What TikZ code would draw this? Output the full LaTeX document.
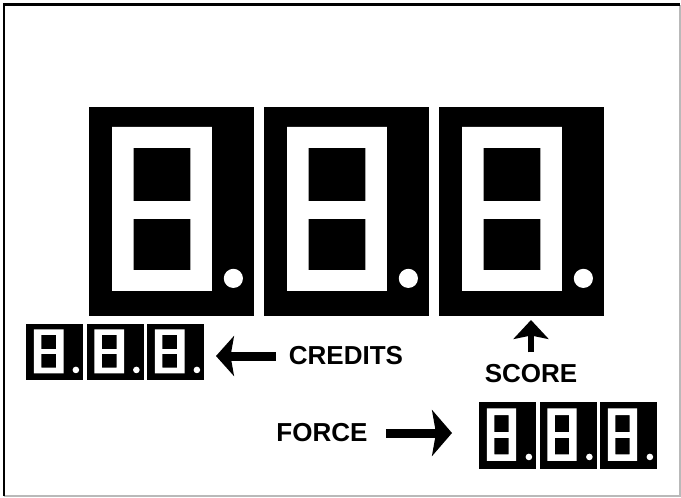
\documentclass[tikz,border=0pt]{standalone}
\usepackage{fontspec}
\usepackage{tikz}
\usetikzlibrary{arrows.meta,calc}
\newfontfamily\lblfont{Liberation Sans}

% one seven-segment digit: name, left, top, width, height, right edge of the white frame
\newcommand{\segdigit}[6]{%
	\node[digitbox,minimum width={#4*0.2mm},minimum height={#5*0.2mm}] (#1) at (#2,#3) {};
	\begin{scope}[shift={(#1.north west)},x={#4*0.2mm},y={-#5*0.2mm}]
		\fill[white,even odd rule] (0.14,0.095) rectangle (#6,0.88)
			(0.27,0.195) rectangle ({#6-0.13},0.45)
			(0.27,0.535) rectangle ({#6-0.13},0.78);
		\fill[white] (0.875,0.82) circle[radius={0.058*#4*0.2mm}];
	\end{scope}
}

\begin{document}
\begin{tikzpicture}[
					x=0.2mm,y=-0.2mm,
					digitbox/.style={rectangle,fill=black,anchor=north west,inner sep=0pt,outer sep=0pt},
					lbl/.style={font=\lblfont\bfseries\fontsize{14.8pt}{17pt}\selectfont,inner sep=0pt},
					fatarrow/.style={line width=1.8mm}
					]
					\useasboundingbox (0,0) rectangle (681,497);
					% frame
					\draw[gray!55,line width=0.3mm] (4,496) -- (680,496) -- (680,4.5);
					\draw[line width=0.5mm] (4,496) -- (4,4.5) -- (680,4.5);
					% digits
					\foreach \n/\px in {1/89,2/264,3/439}{
						\segdigit{big\n}{\px}{107}{165}{209}{0.745}
					}
					\foreach \n/\px in {1/26,2/86.5,3/147}{
						\segdigit{cred\n}{\px}{324}{57}{56}{0.66}
					}
					\foreach \n/\px in {1/479,2/539.5,3/600}{
						\segdigit{frc\n}{\px}{402}{57}{67}{0.65}
					}
					% labels
					\node[lbl] (credits) at (346,356) {CREDITS};
					\node[lbl] (score) at (531,374) {SCORE};
					\node[lbl] (force) at (322,433) {FORCE};
					% arrows
					\draw[fatarrow,-{Stealth[length=3.6mm,width=8mm,inset=0.7mm]},shorten <=2.6mm,shorten >=2.4mm]
						(credits.west) -- (credits.west -| cred3.east);
					\draw[fatarrow,-{Stealth[length=4mm,width=9.2mm,inset=0.8mm]},shorten <=3.6mm,shorten >=5.4mm]
						(force.east) -- (force.east -| frc1.west);
					\draw[line width=1.2mm,-{Stealth[length=3.8mm,width=7mm,inset=0.7mm]},shorten <=2.4mm,shorten >=0.8mm]
						(score.north) -- (score.north |- big3.south);
				\end{tikzpicture}
\end{document}
